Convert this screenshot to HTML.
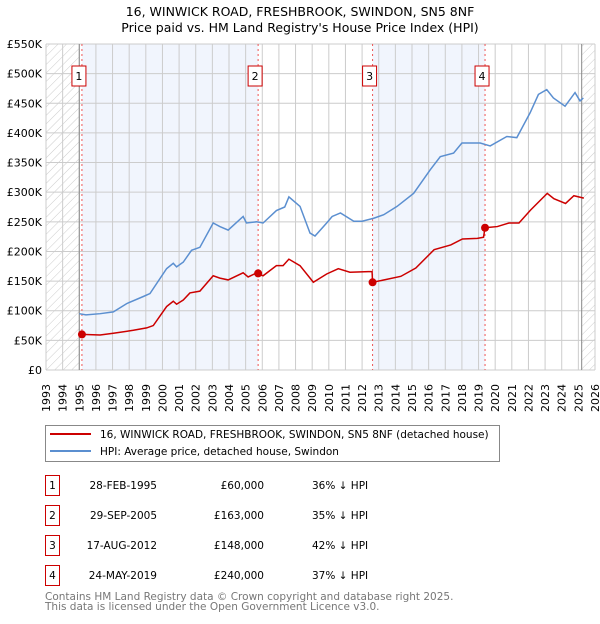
<!DOCTYPE html>
<html><head><meta charset="utf-8"><style>
body{margin:0;background:#fff;width:600px;height:620px;overflow:hidden;font-family:"DejaVu Sans","Liberation Sans",sans-serif}
</style></head><body>
<svg id="c" width="600" height="620" xmlns="http://www.w3.org/2000/svg" font-family="DejaVu Sans, Liberation Sans, sans-serif">
<defs><pattern id="h" width="6" height="6" patternUnits="userSpaceOnUse" patternTransform="rotate(45)"><line x1="0" y1="0" x2="0" y2="6" stroke="#ccc" stroke-width="1"/></pattern></defs>
<text x="300" y="16" text-anchor="middle" font-size="12.5">16, WINWICK ROAD, FRESHBROOK, SWINDON, SN5 8NF</text>
<text x="300" y="32" text-anchor="middle" font-size="12.5">Price paid vs. HM Land Registry's House Price Index (HPI)</text>
<g id="plot"></g>
<g>
<rect x="45.5" y="425.5" width="454" height="36" fill="#fff" stroke="#888"/>
<line x1="50" y1="434" x2="91" y2="434" stroke="#cc0000" stroke-width="2"/>
<text x="100" y="438" font-size="10.5">16, WINWICK ROAD, FRESHBROOK, SWINDON, SN5 8NF (detached house)</text>
<line x1="50" y1="451" x2="91" y2="451" stroke="#5b8fd0" stroke-width="2"/>
<text x="100" y="455" font-size="10.5">HPI: Average price, detached house, Swindon</text>
</g>
<g id="tbl" font-size="10.5"></g>
<text x="45" y="600" font-size="10.5" fill="#777">Contains HM Land Registry data © Crown copyright and database right 2025.</text>
<text x="45" y="610" font-size="10.5" fill="#777">This data is licensed under the Open Government Licence v3.0.</text>
</svg>
<script>
const hpiYears=[1995.0,1995.4,1996.25,1997.05,1997.85,1998.85,1999.25,2000.25,2000.65,2000.85,2001.25,2001.75,2002.25,2003.05,2003.45,2003.95,2004.85,2005.05,2005.65,2006.05,2006.85,2007.35,2007.6,2008.27,2008.87,2009.17,2009.87,2010.2,2010.7,2011.5,2012.0,2012.7,2013.3,2014.1,2015.1,2016.1,2016.7,2017.5,2018.0,2019.1,2019.7,2020.7,2021.3,2022.1,2022.6,2023.1,2023.5,2024.2,2024.8,2025.1,2025.3];
const hpiValues=[95,93,95,98,112,124,129,171,180,174,182,202,207,248,242,236,259,248,250,248,269,275,292,276,231,226,248,259,265,251,251,256,262,276,298,338,360,366,383,383,378,394,392,434,465,473,459,445,468,454,459];
const priceYears=[1995.16,1996.25,1997.05,1998.25,1999.05,1999.45,2000.25,2000.65,2000.85,2001.25,2001.65,2002.25,2003.05,2003.45,2003.95,2004.85,2005.15,2005.6,2006.05,2006.85,2007.25,2007.6,2008.27,2009.07,2009.87,2010.57,2011.27,2012.37,2012.6,2012.63,2013.33,2014.33,2015.23,2016.33,2017.33,2018.03,2018.93,2019.3,2019.39,2020.13,2020.83,2021.43,2022.13,2023.13,2023.53,2024.23,2024.73,2025.33];
const priceValues=[60,59,62,67,71,75,107,116,111,118,130,133,159,155,152,164,157,163,159,176,176,187,176,148,162,171,165,166,166,148,152,158,172,203,211,221,222,224,240,242,248,248,270,298,289,281,294,290];
const saleYears=[1995.16,2005.75,2012.63,2019.39];
const saleValues=[60,163,148,240];
const saleLabels=["1","2","3","4"];
const saleDates=["28-FEB-1995","29-SEP-2005","17-AUG-2012","24-MAY-2019"];
const salePrices=["£60,000","£163,000","£148,000","£240,000"];
const saleDiffs=["36% ↓ HPI","35% ↓ HPI","42% ↓ HPI","37% ↓ HPI"];
const yTicks=[0,50,100,150,200,250,300,350,400,450,500,550];
const yTickLabels=["£0","£50K","£100K","£150K","£200K","£250K","£300K","£350K","£400K","£450K","£500K","£550K"];
const xTicks=[1993,1994,1995,1996,1997,1998,1999,2000,2001,2002,2003,2004,2005,2006,2007,2008,2009,2010,2011,2012,2013,2014,2015,2016,2017,2018,2019,2020,2021,2022,2023,2024,2025,2026];

const X0=46,X1=595,Y0=370,Y1=44;
const xs=y=>X0+(y-1993)/(2026-1993)*(X1-X0);
const ys=v=>Y0-v/550*(Y0-Y1);
const NS="http://www.w3.org/2000/svg";
const plot=document.getElementById('plot');
function mk(t,a,p){const e=document.createElementNS(NS,t);for(const k in a)e.setAttribute(k,a[k]);(p||plot).appendChild(e);return e;}
let e;
e=mk('rect',{x:X0,y:Y1,width:X1-X0,height:Y0-Y1,fill:'#fff'});


[[0,1],[2,3]].forEach(([a,b])=>{e=mk('rect',{x:xs(saleYears[a]),y:Y1,width:xs(saleYears[b])-xs(saleYears[a]),height:Y0-Y1,fill:'#eef3fd',opacity:0.8});

});
e=mk('rect',{x:X0,y:Y1,width:xs(1995)-X0,height:Y0-Y1,fill:'url(#h)'});


e=mk('rect',{x:xs(2025.2),y:Y1,width:X1-xs(2025.2),height:Y0-Y1,fill:'url(#h)'});


xTicks.forEach(t=>{e=mk('line',{x1:xs(t),x2:xs(t),y1:Y1,y2:Y0,stroke:'#ccc','stroke-width':1});


e=mk('text',{x:0,y:0,transform:`translate(${xs(t)+4},${Y0+14}) rotate(-90)`,'text-anchor':'end','font-size':11});
e.textContent=t;

});
yTicks.forEach((t,i)=>{e=mk('line',{x1:X0,x2:X1,y1:ys(t),y2:ys(t),stroke:'#ccc','stroke-width':1});


e=mk('text',{x:X0-4,y:ys(t)+4,'text-anchor':'end','font-size':11});
e.textContent=yTickLabels[i];

});
e=mk('line',{x1:xs(1995),x2:xs(1995),y1:Y1,y2:Y0,stroke:'#888'});


e=mk('line',{x1:xs(2025.2),x2:xs(2025.2),y1:Y1,y2:Y0,stroke:'#888'});


saleYears.forEach((s,i)=>{e=mk('line',{x1:xs(s),x2:xs(s),y1:Y1,y2:Y0,stroke:'#e55','stroke-width':1,'stroke-dasharray':'2,3'});


e=mk('rect',{x:xs(s)-10,y:66,width:14,height:20,fill:'#fff',stroke:'#cc0000'});


e=mk('text',{x:xs(s)-3,y:80,'text-anchor':'middle','font-size':11});
e.textContent=saleLabels[i];

});
e=mk('polyline',{points:hpiYears.map((y,i)=>xs(y)+','+ys(hpiValues[i])).join(' '),fill:'none',stroke:'#5b8fd0','stroke-width':1.5});


e=mk('polyline',{points:priceYears.map((y,i)=>xs(y)+','+ys(priceValues[i])).join(' '),fill:'none',stroke:'#cc0000','stroke-width':1.5});


saleYears.forEach((s,i)=>{e=mk('circle',{cx:xs(s),cy:ys(saleValues[i]),r:4,fill:'#cc0000'});

});
const tbl=document.getElementById('tbl');
saleLabels.forEach((l,i)=>{const y=475+i*30;
e=mk('rect',{x:45.5,y:y+0.5,width:14,height:20,fill:'#fff',stroke:'#cc0000'},tbl);


e=mk('text',{x:52.5,y:y+14,'text-anchor':'middle'},tbl);e.textContent=l;


e=mk('text',{x:157,y:y+14,'text-anchor':'end'},tbl);e.textContent=saleDates[i];


e=mk('text',{x:264,y:y+14,'text-anchor':'end'},tbl);e.textContent=salePrices[i];


e=mk('text',{x:312,y:y+14},tbl);e.textContent=saleDiffs[i];

});
</script>
</body></html>
